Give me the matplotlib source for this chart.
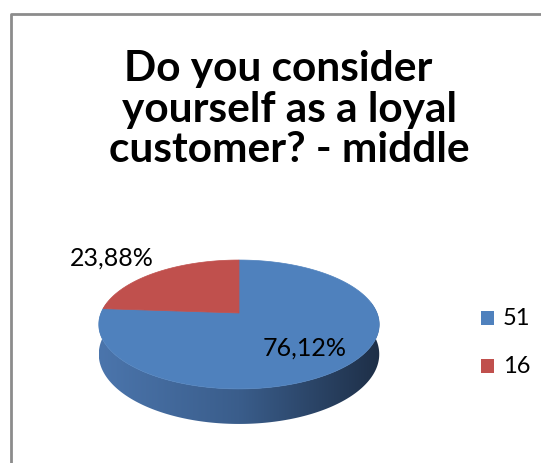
import numpy as np
import matplotlib
matplotlib.use('Agg')
import matplotlib.pyplot as plt
from matplotlib.patches import Polygon, Rectangle
from matplotlib.colors import LinearSegmentedColormap

############################
# data
############################
counts = [51, 16]
legend_labels = ['51', '16']
pct_labels = ['76,12%', '23,88%']
slice_colors = ['#4F81BD', '#C0504D']
title_lines = ['Do you consider ', 'yourself as a loyal', 'customer? - middle']

# 3d pie look (pixel units), perspective squeeze on the far side
cx, cy = 239, 314
A, B, p, D = 138, 62.4, 0.178, 28.8

def top_pt(t):
    w = 1 + p*np.sin(t)
    return cx + A*np.cos(t)/w, cy - B*np.sin(t)/w

def bot_pt(t):
    w = 1 + p*np.sin(t)
    return cx + A*np.cos(t)/w, cy - (B*np.sin(t) - D)/w

fig = plt.figure(figsize=(5.41, 4.64), dpi=100)
ax = fig.add_axes([0, 0, 1, 1])
ax.set_xlim(0, 541)
ax.set_ylim(464, 0)
ax.axis('off')

# chart frame
ax.plot([11, 11, 541], [464, 15, 15], color='#8C8C8C', lw=2, solid_capstyle='butt')

# slice angles, clockwise from 12 o'clock
frac = np.array(counts)/np.sum(counts)
ends = np.pi/2 - 2*np.pi*np.cumsum(frac)
starts = np.concatenate([[np.pi/2], ends[:-1]])

# side wall: one outline, filled with a left-to-right shade
ts = np.linspace(np.radians(170), np.radians(370), 300)
tx, ty = top_pt(ts)
bx, by = bot_pt(ts)
side = Polygon(list(zip(tx, ty)) + list(zip(bx[::-1], by[::-1])), closed=True,
               fc='none', ec='none')
ax.add_patch(side)
shade = LinearSegmentedColormap.from_list('side', ['#4B75AC', '#3A5D8B', '#1E2F47'])
grad = np.linspace(0, 1, 256)[None, :]
im = ax.imshow(grad, cmap=shade, aspect='auto', interpolation='bilinear',
               extent=[tx.min(), tx.max(), by.max() + 2, ty.min()])
im.set_clip_path(side)

# top faces
for s, e, col in zip(starts, ends, slice_colors):
    t = np.linspace(s, e, 200)
    xs, ys = top_pt(t)
    pts = [(cx, cy)] + list(zip(xs, ys))
    ax.add_patch(Polygon(pts, closed=True, fc=col, ec=col, lw=0.5))

ax.set_xlim(0, 541)
ax.set_ylim(464, 0)

# data labels
ax.text(305, 348, pct_labels[0], family='Lato', fontsize=18, ha='center', va='center')
ax.text(112, 258, pct_labels[1], family='Lato', fontsize=18, ha='center', va='center')

# title
for line, xc, yb in zip(title_lines, [283, 289, 289], [81, 122, 162]):
    ax.text(xc, yb, line, family='Lato', weight='bold', fontsize=30.5,
            ha='center', va='baseline')

# legend
for lab, col, yc in zip(legend_labels, slice_colors, [319, 367]):
    ax.add_patch(Rectangle((481, yc - 7), 13, 14, fc=col, ec='none'))
    ax.text(503, yc, lab, family='Lato', fontsize=17, ha='left', va='center')

fig.savefig('out.png', dpi=100)
